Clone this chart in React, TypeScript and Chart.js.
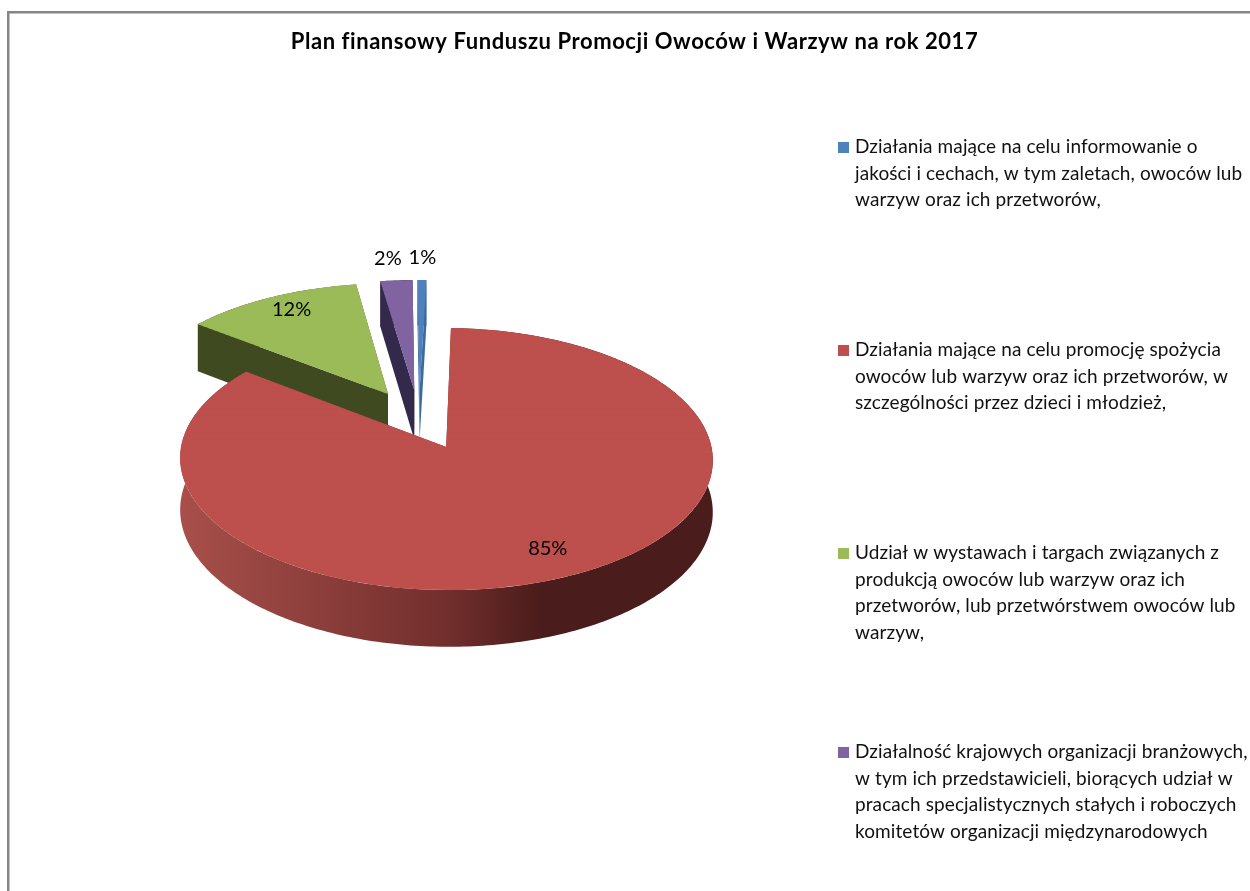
import React, { useEffect, useRef } from "react";
import { Chart, registerables } from "chart.js";

Chart.register(...registerables);

// ---- data ----
const titleText = "Plan finansowy Funduszu Promocji Owoców i Warzyw na rok 2017";
const categories = [
  "Działania mające na celu informowanie o jakości i cechach, w tym zaletach, owoców lub warzyw oraz ich przetworów,",
  "Działania mające na celu promocję spożycia owoców lub warzyw oraz ich przetworów, w szczególności przez dzieci i młodzież,",
  "Udział w wystawach i targach związanych z produkcją owoców lub warzyw oraz ich przetworów, lub przetwórstwem owoców lub warzyw,",
  "Działalność krajowych organizacji branżowych, w tym ich przedstawicieli, biorących udział w pracach specjalistycznych stałych i roboczych komitetów organizacji międzynarodowych",
];
const legendLines = [
  ["Działania mające na celu informowanie o", "jakości i cechach, w tym zaletach, owoców lub", "warzyw oraz ich przetworów,"],
  ["Działania mające na celu promocję spożycia", "owoców lub warzyw oraz ich przetworów, w", "szczególności przez dzieci i młodzież,"],
  ["Udział w wystawach i targach związanych z", "produkcją owoców lub warzyw oraz ich", "przetworów, lub przetwórstwem owoców lub", "warzyw,"],
  ["Działalność krajowych organizacji branżowych,", "w tym ich przedstawicieli, biorących udział w", "pracach specjalistycznych stałych i roboczych", "komitetów organizacji międzynarodowych"],
];
const shares = [0.6, 85, 12.2, 2.2];

// ---- styles ----
const topColors = ["#4f81bd", "#bd4f4c", "#9bbb59", "#8064a2"];
const sideColors = ["#3a6a9e", "#4a1c1b", "#3f4a21", "#33294a"];
const drawOrder = [0, 3, 2, 1];
const labelRadius = [1.23, 0.81, 0.87, 1.22];
const labelNudgeX = [0, 1, 7, -5];
const legendFirstLineY = [147, 350, 553, 752];
const FONT = "Lato, Carlito, Calibri, sans-serif";

// ---- 3D projection of the pie plane ----
const R = 260;
const EXPLODE = 62.4;
const DEPTH = 50.5;
const CX = 419;
const CY = 419.4;
const TILT = 124.9 / R;
const PERSP = 0.09 / R;
const w = (v: number) => 1 - PERSP * v;
const projY = (v: number) => CY + (TILT * v) / w(v);
const projX = (u: number, v: number) => CX + u / w(v);

const pie3d = {
  id: "pie3d",
  beforeDraw(chart: any) {
    (chart.ctx as any).letterSpacing = "0.57px";
  },
  beforeDatasetsDraw(chart: any) {
    const ctx: any = chart.ctx;
    const els = chart.getDatasetMeta(0).data;
    ctx.letterSpacing = "0px";

    // frame
    ctx.save();
    ctx.fillStyle = "#858585";
    ctx.fillRect(7, 11, 1243, 2.5);
    ctx.fillRect(7, 11, 2.5, 880);
    ctx.restore();

    for (const i of drawOrder) {
      const el = els[i];
      const mid = (el.startAngle + el.endAngle) / 2;
      const tx = EXPLODE * Math.cos(mid);
      const ty = EXPLODE * Math.sin(mid);

      // side wall outline: tip, along the rim, back to the tip; extruded downward
      const rim: [number, number][] = [];
      const n = Math.max(2, Math.ceil((el.endAngle - el.startAngle) * 60));
      for (let k = 0; k <= n; k++) {
        const a = el.startAngle + ((el.endAngle - el.startAngle) * k) / n;
        rim.push([tx + R * Math.cos(a), ty + R * Math.sin(a)]);
      }
      let fill: any = sideColors[i];
      if (i === 1) {
        const g = ctx.createLinearGradient(181, 0, 711, 0);
        g.addColorStop(0, "#a84f4a");
        g.addColorStop(0.5, "#722f2d");
        g.addColorStop(0.68, "#4a1c1b");
        g.addColorStop(1, "#4a1c1b");
        fill = g;
      }
      ctx.fillStyle = fill;
      const wall = (pts: [number, number][]) => {
        ctx.beginPath();
        pts.forEach(([u, v], k) => {
          if (k === 0) ctx.moveTo(projX(u, v), projY(v));
          else ctx.lineTo(projX(u, v), projY(v));
        });
        for (let k = pts.length - 1; k >= 0; k--) {
          const [u, v] = pts[k];
          ctx.lineTo(projX(u, v), projY(v) + DEPTH / w(v));
        }
        ctx.closePath();
        ctx.fill();
      };
      wall(rim);
      wall([[tx, ty], rim[0]]);
      wall([[tx, ty], rim[rim.length - 1]]);

      // top face: library arc element, drawn band by band through the projection
      const STEP = 5;
      const OVER = 2;
      for (let s = -R; s < R; s += STEP) {
        const v0 = ty + s;
        const v1 = v0 + STEP;
        const yScale = (projY(v1) - projY(v0)) / STEP;
        const xScale = 1 / w((v0 + v1) / 2);
        ctx.save();
        // source -> screen: u = x - el.x + tx, v = y - el.y + ty
        ctx.transform(
          xScale, 0, 0, yScale,
          CX + (tx - el.x) * xScale,
          projY(v0) + (ty - el.y - v0) * yScale,
        );
        ctx.beginPath();
        ctx.rect(el.x - 2 * R, el.y + v0 - ty, 4 * R, STEP + OVER);
        ctx.clip();
        el.draw(ctx);
        ctx.restore();
      }
    }

    // percentage labels
    const total = shares.reduce((a, b) => a + b, 0);
    ctx.save();
    ctx.font = `20px ${FONT}`;
    ctx.fillStyle = "#000";
    ctx.textAlign = "center";
    ctx.textBaseline = "middle";
    els.forEach((el: any, i: number) => {
      const mid = (el.startAngle + el.endAngle) / 2;
      const d = R * labelRadius[i];
      const u = (EXPLODE + d) * Math.cos(mid);
      const v = (EXPLODE + d) * Math.sin(mid);
      ctx.fillText(`${Math.round((shares[i] / total) * 100)}%`, projX(u, v) + labelNudgeX[i], projY(v));
    });

    // legend
    ctx.font = `19px ${FONT}`;
    ctx.letterSpacing = "0.1px";
    ctx.textAlign = "left";
    legendLines.forEach((lines, i) => {
      ctx.fillStyle = topColors[i];
      ctx.fillRect(838, legendFirstLineY[i] - 5, 11, 11);
      ctx.fillStyle = "#111";
      lines.forEach((line, j) => {
        ctx.fillText(line, 855, legendFirstLineY[i] + j * 26.6);
      });
    });
    ctx.restore();
    ctx.letterSpacing = "0px";
    return false;
  },
};

export default function App() {
  const ref = useRef<HTMLCanvasElement>(null);
  useEffect(() => {
    document.body.style.margin = "0";
    const chart = new Chart(ref.current!, {
      type: "pie",
      data: {
        labels: categories,
        datasets: [{ data: shares, backgroundColor: topColors, borderWidth: 0 }],
      },
      options: {
        animation: false,
        responsive: false,
        devicePixelRatio: 1,
        rotation: -0.5,
        radius: R,
        events: [],
        layout: { padding: { left: 19 } },
        plugins: {
          legend: { display: false },
          tooltip: { enabled: false },
          title: {
            display: true,
            text: titleText,
            color: "#000",
            font: { family: FONT, size: 22, weight: "bold" },
            padding: { top: 29, bottom: 10 },
          },
        },
      } as any,
      plugins: [pie3d],
    });
    return () => chart.destroy();
  }, []);
  return <canvas ref={ref} width={1250} height={891} style={{ display: "block", filter: "blur(0.4px)" }} />;
}
